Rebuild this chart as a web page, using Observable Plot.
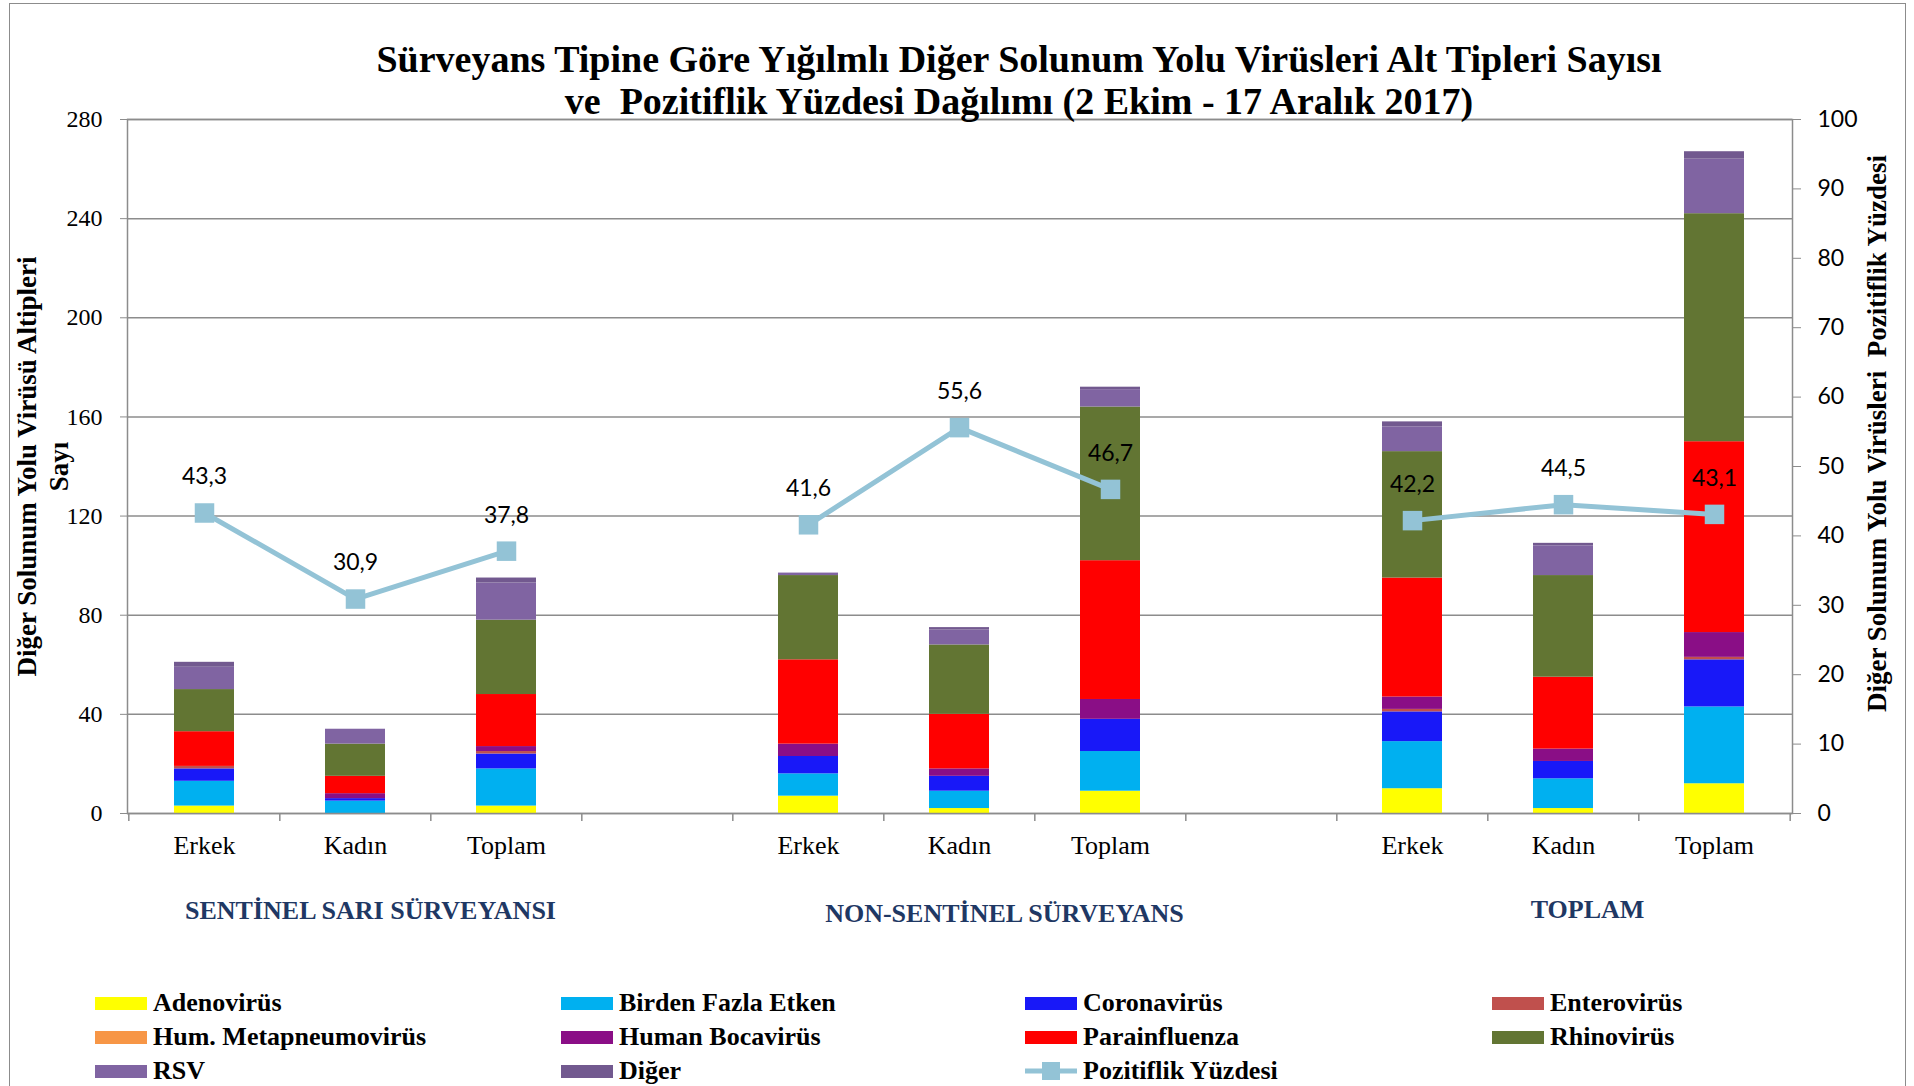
<!DOCTYPE html>
<html>
<head>
<meta charset="utf-8">
<script src="https://cdn.jsdelivr.net/npm/d3@7"></script>
<script src="https://cdn.jsdelivr.net/npm/@observablehq/plot@0.6"></script>
<style>
  html, body { margin: 0; padding: 0; background: #fff; }
  #page { position: relative; width: 1914px; height: 1086px; overflow: hidden; background: #fff; }
  #frame { position: absolute; left: 9px; top: 3px; width: 1897px; height: 1200px; border: 1.5px solid #8c8c8c; box-sizing: border-box; }
  #title { position: absolute; left: 1019px; top: 38px; transform: translateX(-50%); white-space: pre; text-align: center; z-index: 2;
           font-family: "Liberation Serif", serif; font-weight: bold; font-size: 38px; line-height: 42px; color: #000; }
  #chart { position: absolute; left: 0; top: 110px; z-index: 1; }
  .lg { position: absolute; display: flex; align-items: center; height: 34px; white-space: nowrap;
        font-family: "Liberation Serif", serif; font-weight: bold; font-size: 26px; color: #000; }
  .sw { width: 52px; height: 13px; margin-right: 6px; }
</style>
</head>
<body>
<div id="page">
  <div id="frame"></div>
  <div id="chart"></div>
  <div id="title"></div>
  <div id="legend"></div>
</div>
<script>
// ---- data ----
const titleLines = ["Sürveyans Tipine Göre Yığılmlı Diğer Solunum Yolu Virüsleri Alt Tipleri Sayısı",
                    "ve  Pozitiflik Yüzdesi Dağılımı (2 Ekim - 17 Aralık 2017)"];
const groups = ["SENTİNEL SARI SÜRVEYANSI", "NON-SENTİNEL SÜRVEYANS", "TOPLAM"];
const subgroups = ["Erkek", "Kadın", "Toplam"];
const types = ["Adenovirüs", "Birden Fazla Etken", "Coronavirüs", "Enterovirüs",
               "Hum. Metapneumovirüs", "Human Bocavirüs", "Parainfluenza", "Rhinovirüs", "RSV", "Diğer"];
const colors = ["#FFFF00", "#00B0F0", "#1818F8", "#C0504D", "#F79646", "#8A0E86", "#FF0000", "#627533", "#8064A2", "#72598F"];
// values per bar: Sentinel (E,K,T), Non-sentinel (E,K,T), Toplam (E,K,T)
const adeno  = [3, 0, 3,    7, 2, 9,    10, 2, 12];
const birden = [10, 5, 15,  9, 7, 16,   19, 12, 31];
const corona = [5, 1, 6,    7, 6, 13,   12, 7, 19];
const entero = [1, 0, 1,    0, 0, 0,    1, 0, 1];
const hmpv   = [0, 0, 0,    0, 0, 0,    0, 0, 0];
const boca   = [0, 2, 2,    5, 3, 8,    5, 5, 10];
const para   = [14, 7, 21,  34, 22, 56, 48, 29, 77];
const rhino  = [17, 13, 30, 34, 28, 62, 51, 41, 92];
const rsv    = [9, 6, 15,   1, 6, 7,    10, 12, 22];
const diger  = [2, 0, 2,    0, 1, 1,    2, 1, 3];
const pct    = [43.3, 30.9, 37.8, 41.6, 55.6, 46.7, 42.2, 44.5, 43.1];
const leftTicks = [0, 40, 80, 120, 160, 200, 240, 280];
const pctTicks = [0, 10, 20, 30, 40, 50, 60, 70, 80, 90, 100];
const lineName = "Pozitiflik Yüzdesi";
const leftTitle = "Diğer Solunum Yolu Virüsü Altipleri\nSayı";
const rightTitle = "Diğer Solunum Yolu Virüsleri  Pozitiflik Yüzdesi";

const series = [adeno, birden, corona, entero, hmpv, boca, para, rhino, rsv, diger];
const lineColor = "#93C3D6";
const grid = "#8c8c8c";
const serif = "Liberation Serif";
const sans = "Lato";
const yMax = leftTicks[leftTicks.length - 1];
const k = yMax / pctTicks[pctTicks.length - 1]; // percent -> left scale

// categories with gap slots between groups
const cats = [];
groups.forEach((g, gi) => {
  if (gi > 0) cats.push("gap" + gi);
  subgroups.forEach(s => cats.push(g + "|" + s));
});
const barCats = cats.filter(c => c.includes("|"));
const barData = types.flatMap((t, ti) => barCats.map((c, ci) => ({cat: c, type: t, value: series[ti][ci]})));
const lineData = cats.map(c => { const i = barCats.indexOf(c); return {cat: c, pct: i >= 0 ? pct[i] : NaN}; });

// ---- layout ----
const W = 1914, H = 850, mL = 127, mR = 122, mT = 9, mB = 147;
const step = (W - mL - mR) / cats.length;

document.getElementById("title").textContent = titleLines.join("\n");

const groupOffsets = [[15, 97], [45, 100], [24, 96]];
const groupMarks = groups.map((g, gi) => Plot.text([g], {
  x: d => d + "|" + subgroups[1], frameAnchor: "bottom", text: d => d,
  textAnchor: "middle", lineAnchor: "middle", dx: groupOffsets[gi][0], dy: groupOffsets[gi][1],
  fontFamily: serif, fontWeight: "bold", fontSize: 26, fill: "#1F3864"
}));

const chart = Plot.plot({
  width: W, height: H,
  marginLeft: mL, marginRight: mR, marginTop: mT, marginBottom: mB,
  x: {domain: cats, paddingInner: 0.6, paddingOuter: 0.3, label: null},
  y: {domain: [0, yMax], label: null},
  color: {domain: types, range: colors},
  style: {fontFamily: serif, background: "none", overflow: "visible", color: "black"},
  marks: [
    Plot.gridY(leftTicks, {stroke: grid, strokeOpacity: 1, strokeWidth: 1.5}),
    Plot.barY(barData, {x: "cat", y: "value", fill: "type"}),
    Plot.frame({stroke: grid, strokeWidth: 1.5}),
    Plot.axisY(leftTicks, {anchor: "left", tickSize: 7, tickPadding: 18, fontSize: 24, fontFamily: serif, stroke: grid, fill: "black", label: null}),
    Plot.axisY(pctTicks.map(p => p * k), {anchor: "right", tickSize: 8, tickPadding: 17, fontSize: 23, fontFamily: sans,
      stroke: grid, fill: "black", label: null, tickFormat: d => String(Math.round(d / k))}),
    Plot.axisX({tickSize: 0, tickPadding: 22, fontSize: 26, fontFamily: serif, fill: "black", label: null,
      tickFormat: d => (d.split("|")[1] ?? "")}),
    Plot.axisX(cats, {tickSize: 8, dx: -step / 2, stroke: grid, strokeWidth: 1.5, label: null, tickFormat: () => ""}),
    Plot.axisX([cats[cats.length - 1]], {tickSize: 8, dx: step / 2, stroke: grid, strokeWidth: 1.5, label: null, tickFormat: () => ""}),
    Plot.line(lineData, {x: "cat", y: d => d.pct * k, stroke: lineColor, strokeWidth: 5}),
    Plot.dot(lineData, {x: "cat", y: d => d.pct * k, symbol: "square", r: 11, fill: lineColor, stroke: "none"}),
    Plot.text(lineData, {x: "cat", y: d => d.pct * k, text: d => isNaN(d.pct) ? "" : d.pct.toFixed(1).replace(".", ","),
      dy: -36, fontFamily: sans, fontSize: 23, fill: "black"}),
    Plot.text([leftTitle], {frameAnchor: "left", text: d => d, rotate: -90, textAnchor: "middle", lineAnchor: "middle",
      lineHeight: 1.2, dx: -86, fontFamily: serif, fontWeight: "bold", fontSize: 27, fill: "black"}),
    Plot.text([rightTitle], {frameAnchor: "right", text: d => d, rotate: -90, textAnchor: "middle", lineAnchor: "middle",
      dx: 85, dy: -33, fontFamily: serif, fontWeight: "bold", fontSize: 27, fill: "black", style: "white-space: pre"}),
    ...groupMarks
  ]
});
document.getElementById("chart").appendChild(chart);

// ---- legend ----
const legend = document.getElementById("legend");
const colX = [95, 561, 1025, 1492];
const rowY = [1003, 1037, 1071];
const items = types.map((t, i) => ({name: t, color: colors[i]})).concat([{name: lineName, line: true}]);
items.forEach((it, i) => {
  const col = i % 4, row = Math.floor(i / 4);
  const el = document.createElement("div");
  el.className = "lg";
  el.style.left = colX[col] + "px";
  el.style.top = (rowY[row] - 17) + "px";
  if (it.line) {
    el.innerHTML = `<svg width="52" height="22" style="margin-right:6px"><line x1="0" x2="52" y1="11" y2="11" stroke="${lineColor}" stroke-width="5"/><rect x="17" y="2" width="18" height="18" fill="${lineColor}"/></svg>`;
  } else {
    el.innerHTML = `<div class="sw" style="background:${it.color}"></div>`;
  }
  const span = document.createElement("span");
  span.textContent = it.name;
  el.appendChild(span);
  legend.appendChild(el);
});
</script>
</body>
</html>
